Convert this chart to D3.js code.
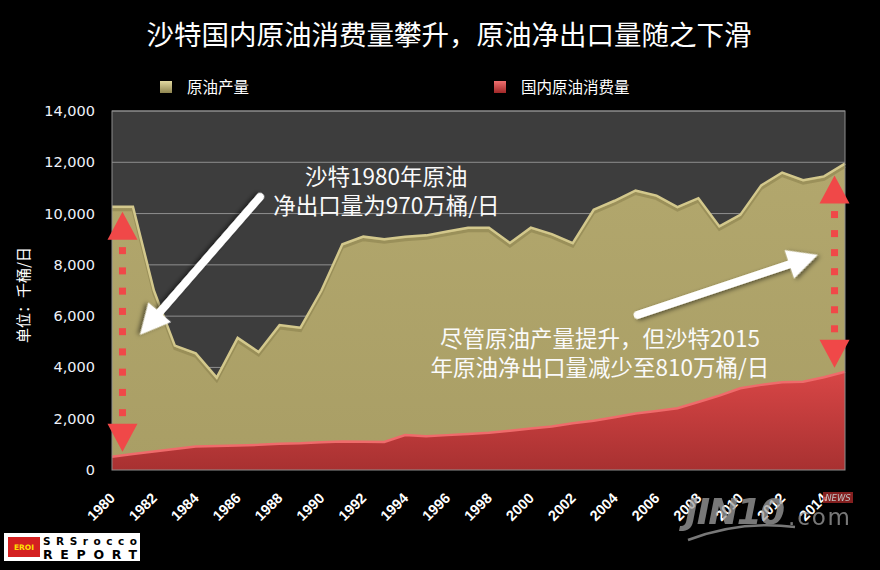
<!DOCTYPE html>
<html><head><meta charset="utf-8">
<script src="https://cdn.jsdelivr.net/npm/d3@7"></script>
<style>body{margin:0;background:#000;} svg{display:block}</style>
</head><body>
<svg id="c" width="880" height="570"></svg>
<script>
// ---- data ----
const years = [1980,1981,1982,1983,1984,1985,1986,1987,1988,1989,1990,1991,1992,1993,1994,1995,1996,1997,1998,1999,2000,2001,2002,2003,2004,2005,2006,2007,2008,2009,2010,2011,2012,2013,2014,2015];
const production = [10270,10270,7000,4850,4550,3600,5150,4600,5650,5550,7000,8800,9100,9000,9100,9150,9300,9450,9450,8850,9450,9200,8850,10150,10500,10900,10700,10250,10600,9500,9950,11100,11600,11300,11450,11950];
const consumption = [520,620,720,820,920,940,960,980,1020,1040,1080,1110,1100,1090,1360,1320,1360,1400,1450,1530,1620,1700,1820,1920,2060,2200,2300,2410,2650,2900,3190,3320,3420,3440,3620,3830];
const yTicks = [0,2000,4000,6000,8000,10000,12000,14000];
const xTickYears = [1980,1982,1984,1986,1988,1990,1992,1994,1996,1998,2000,2002,2004,2006,2008,2010,2012,2014];
const seriesNames = ["原油产量","国内原油消费量"];
const titleText = "沙特国内原油消费量攀升，原油净出口量随之下滑";
const yLabel = "单位：千桶/日";
const note1 = ["沙特1980年原油","净出口量为970万桶/日"];
const note2 = ["尽管原油产量提升，但沙特2015","年原油净出口量减少至810万桶/日"];

// ---- layout ----
const svg = d3.select("#c");
const L = 112, R = 845, T = 111, B = 470;
const x = d3.scaleLinear().domain([1980, 2015]).range([L, R]);
const y = d3.scaleLinear().domain([0, 14000]).range([B, T]);
const cjk = "'Noto Sans CJK SC','Noto Sans',sans-serif";

const defs = svg.append("defs");
const gP = defs.append("linearGradient").attr("id","gp").attr("x1",0).attr("y1",0).attr("x2",0).attr("y2",1);
gP.append("stop").attr("offset","0%").attr("stop-color","#b2a76d");
gP.append("stop").attr("offset","100%").attr("stop-color","#a99e65");
const gC = defs.append("linearGradient").attr("id","gc").attr("x1",0).attr("y1",0).attr("x2",0).attr("y2",1);
gC.append("stop").attr("offset","0%").attr("stop-color","#d84646");
gC.append("stop").attr("offset","100%").attr("stop-color","#a83131");
const lp = defs.append("linearGradient").attr("id","lp").attr("x1",0).attr("y1",0).attr("x2",0).attr("y2",1);
lp.append("stop").attr("offset","0%").attr("stop-color","#e2d9a0");
lp.append("stop").attr("offset","100%").attr("stop-color","#8f8550");
const lc = defs.append("linearGradient").attr("id","lc").attr("x1",0).attr("y1",0).attr("x2",0).attr("y2",1);
lc.append("stop").attr("offset","0%").attr("stop-color","#f07070");
lc.append("stop").attr("offset","100%").attr("stop-color","#a02828");
const sh = defs.append("filter").attr("id","sh").attr("x","-20%").attr("y","-20%").attr("width","140%").attr("height","140%");
sh.append("feDropShadow").attr("dx",2).attr("dy",2).attr("stdDeviation",2).attr("flood-color","#000").attr("flood-opacity",0.5);

// title
svg.append("text").attr("x", 449).attr("y", 45).attr("text-anchor","middle")
  .attr("fill","#fff").attr("font-family",cjk).attr("font-size",27.5).text(titleText);

// legend
const legendX = [160, 494];
const legendFill = ["url(#lp)","url(#lc)"];
seriesNames.forEach((n,i)=>{
  svg.append("rect").attr("x",legendX[i]).attr("y",81).attr("width",12).attr("height",12).attr("fill",legendFill[i]);
  svg.append("text").attr("x",legendX[i]+27).attr("y",92.5).attr("fill","#fff")
    .attr("font-family",cjk).attr("font-size",15.5).text(n);
});

// plot background
svg.append("rect").attr("x",L).attr("y",T).attr("width",R-L).attr("height",B-T).attr("fill","#3d3d3d");
// gridlines
svg.append("g").selectAll("line").data(yTicks.filter(d=>d>0)).join("line")
  .attr("x1",L).attr("x2",R).attr("y1",d=>y(d)).attr("y2",d=>y(d))
  .attr("stroke","#8e8e8e").attr("stroke-width",1);

// areas
const data = years.map((yr,i)=>({yr, p:production[i], c:consumption[i]}));
const areaP = d3.area().x(d=>x(d.yr)).y0(B).y1(d=>y(d.p));
const areaC = d3.area().x(d=>x(d.yr)).y0(B).y1(d=>y(d.c));
const lineP = d3.line().x(d=>x(d.yr)).y(d=>y(d.p));
const lineC = d3.line().x(d=>x(d.yr)).y(d=>y(d.c));
svg.append("path").datum(data).attr("d",areaP).attr("fill","url(#gp)");
svg.append("path").datum(data).attr("d",lineP).attr("fill","none").attr("stroke","#8c824f").attr("stroke-width",3).attr("transform","translate(0,3)").attr("opacity",0.6);
svg.append("path").datum(data).attr("d",lineP).attr("fill","none").attr("stroke","#d3c88c").attr("stroke-width",2.5);
svg.append("path").datum(data).attr("d",areaC).attr("fill","url(#gc)");
svg.append("path").datum(data).attr("d",lineC).attr("fill","none").attr("stroke","#ef6b6b").attr("stroke-width",2.5);

// plot border
svg.append("rect").attr("x",L).attr("y",T).attr("width",R-L).attr("height",B-T)
  .attr("fill","none").attr("stroke","#8e8e8e").attr("stroke-width",1);

// y axis labels
const fmt = d3.format(",");
svg.append("g").selectAll("text").data(yTicks).join("text")
  .attr("x",95).attr("y",d=>y(d)+5).attr("text-anchor","end")
  .attr("fill","#eef2fa").attr("font-family","'DejaVu Sans',sans-serif").attr("font-size",14.5)
  .text(d=>fmt(d));
svg.append("text").attr("transform","translate(29,295) rotate(-90)").attr("text-anchor","middle")
  .attr("fill","#fff").attr("font-family",cjk).attr("font-size",15).text(yLabel);

// x axis labels
svg.append("g").selectAll("text").data(xTickYears).join("text")
  .attr("transform",d=>`translate(${x(d)+4},499) rotate(-45)`)
  .attr("text-anchor","end").attr("fill","#fff").attr("font-weight","bold")
  .attr("font-family","'Liberation Sans',Arial,sans-serif").attr("font-size",14.5)
  .text(d=>d);

// red dotted double arrows
function redArrow(cx, ya, yb){
  const g = svg.append("g").attr("fill","#f04848");
  g.append("path").attr("d",`M${cx},${ya} L${cx+15},${ya+28} L${cx-15},${ya+28} Z`);
  g.append("path").attr("d",`M${cx},${yb} L${cx+15},${yb-28} L${cx-15},${yb-28} Z`);
  const s = ya+39, e = yb-39, n = Math.round((e-s)/20)+1, step = (e-s)/(n-1);
  for(let i=0;i<n;i++) g.append("rect").attr("x",cx-3.5).attr("y",s+i*step-3.5).attr("width",7).attr("height",7);
}
redArrow(x(1980.5), y(production[0])+5, y(consumption[0])-5);
redArrow(x(2014.5), y(production[35])+12, y(consumption[35])-4);

// white arrows
function whiteArrow(x1,y1,x2,y2){
  const dx=x2-x1, dy=y2-y1, len=Math.hypot(dx,dy), ang=Math.atan2(dy,dx)*180/Math.PI;
  const g = svg.append("g").attr("transform",`translate(${x1},${y1}) rotate(${ang})`).attr("filter","url(#sh)");
  g.append("line").attr("x1",0).attr("y1",0).attr("x2",len-26).attr("y2",0)
    .attr("stroke","#fff").attr("stroke-width",8).attr("stroke-linecap","round");
  g.append("path").attr("d",`M${len},0 L${len-30},-15 L${len-30},15 Z`).attr("fill","#fff");
}
whiteArrow(x(1987.07), y(10650), x(1981.34), y(5270));
whiteArrow(x(2005.1), y(6050), x(2013.7), y(8390));

// annotation text
function note(lines, cx, y0, lh, fs){
  svg.append("g").selectAll("text").data(lines).join("text")
    .attr("x",cx).attr("y",(d,i)=>y0+i*lh).attr("text-anchor","middle")
    .attr("fill","#fafafa").attr("font-family",cjk).attr("font-size",fs).text(d=>d);
}
note(note1, x(1993.1), 185, 29, 22.5);
note(note2, x(2003.3), 347, 29, 22.5);

// SRSrocco logo
const lg = svg.append("g");
lg.append("rect").attr("x",4).attr("y",533).attr("width",136).attr("height",28).attr("fill","#fff");
lg.append("rect").attr("x",8).attr("y",537).attr("width",32).attr("height",20).attr("fill","#d42020");
lg.append("text").attr("x",24).attr("y",550).attr("text-anchor","middle").attr("fill","#ffe000")
  .attr("font-family","'DejaVu Sans',sans-serif").attr("font-weight","bold").attr("font-size",7.5).text("EROI");
lg.append("text").attr("x",43).attr("y",545).attr("fill","#000").attr("font-family","'DejaVu Sans',sans-serif")
  .attr("font-weight","bold").attr("font-size",10.5).attr("textLength",94).text("SRSrocco");
lg.append("text").attr("x",43).attr("y",559).attr("fill","#000").attr("font-family","'DejaVu Sans',sans-serif")
  .attr("font-weight","bold").attr("font-size",12.5).attr("textLength",94).text("REPORT");

// JIN10 watermark
const wm = svg.append("g").attr("opacity",0.75);
wm.append("text").attr("x",685).attr("y",524).attr("fill","#a0a0a0").attr("font-family","'DejaVu Sans',sans-serif")
  .attr("font-weight","bold").attr("font-style","italic").attr("font-size",36).attr("textLength",100).text("JIN10");
wm.append("text").attr("x",788).attr("y",525).attr("fill","#a0a0a0").attr("font-family","'DejaVu Sans',sans-serif")
  .attr("font-size",23).attr("textLength",62).text(".com");
wm.append("rect").attr("x",823).attr("y",492).attr("width",30).attr("height",11).attr("fill","#b02a2a");
wm.append("text").attr("x",838).attr("y",501).attr("text-anchor","middle").attr("fill","#fff")
  .attr("font-family","'DejaVu Sans',sans-serif").attr("font-style","italic").attr("font-size",8.5).text("NEWS");
wm.append("path").attr("d","M688,540 Q740,520 795,527").attr("fill","none").attr("stroke","#a0a0a0").attr("stroke-width",2.5);
</script>
</body></html>
